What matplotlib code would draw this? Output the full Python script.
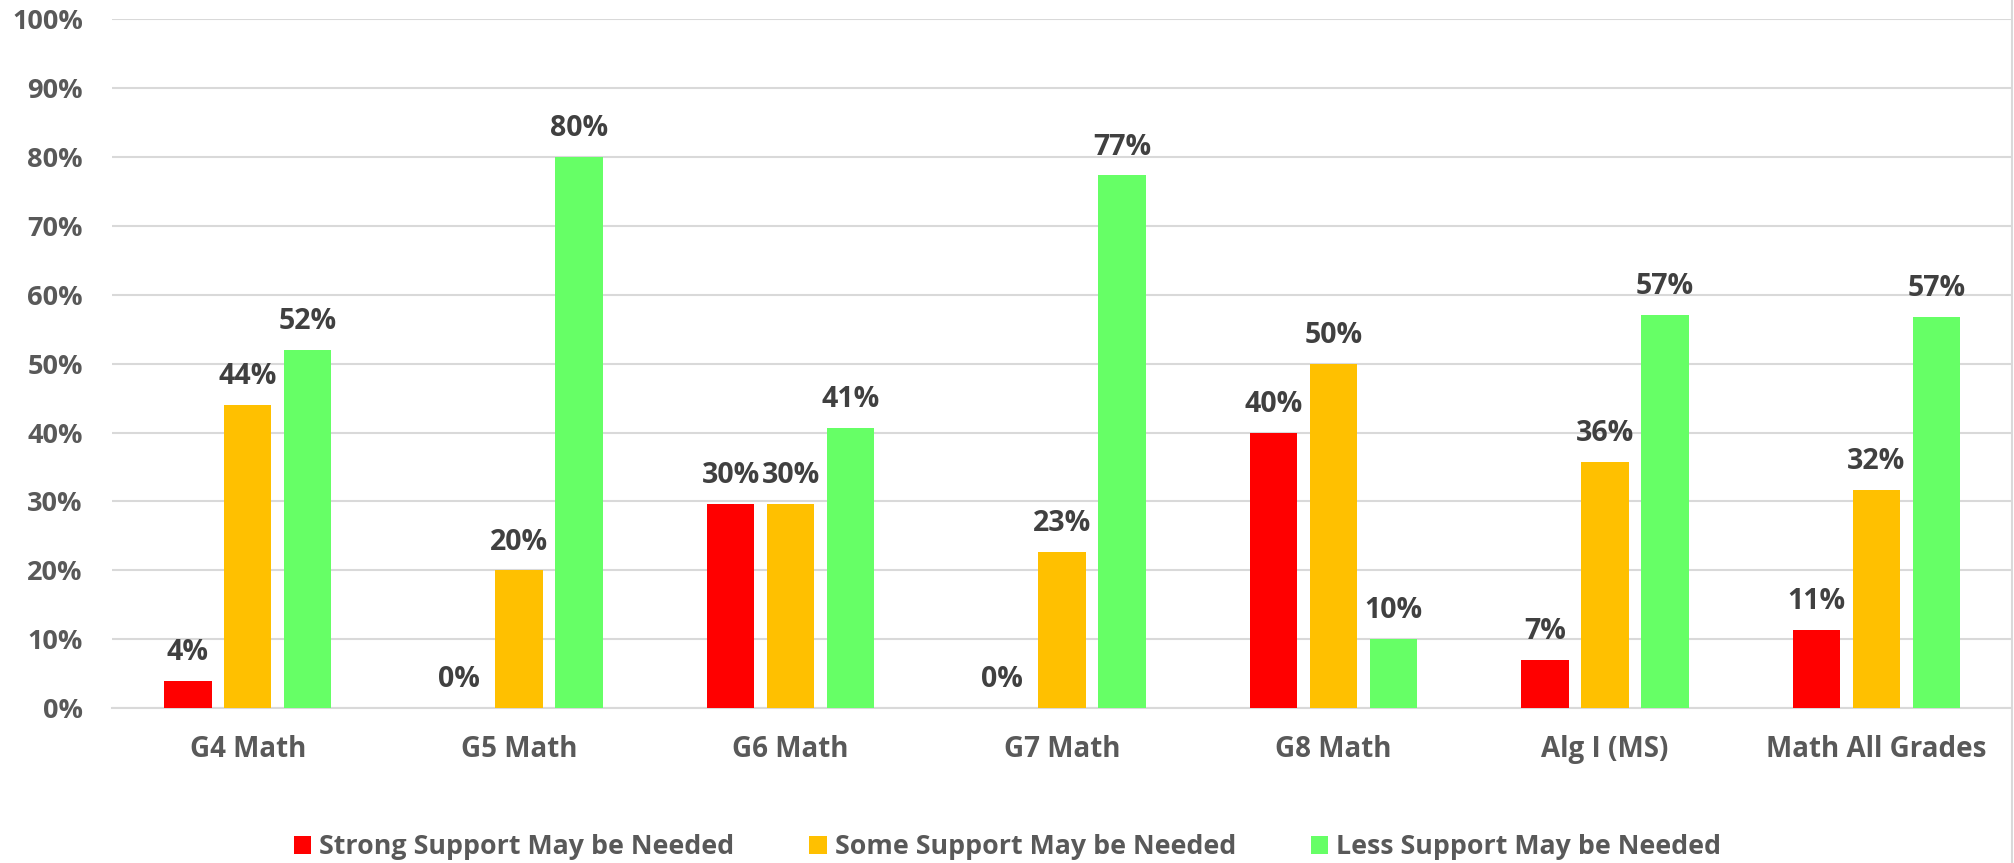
import numpy as np
import matplotlib
matplotlib.use('Agg')
import matplotlib.pyplot as plt
from matplotlib.lines import Line2D
from matplotlib.ticker import FuncFormatter

# Dados do gráfico
categorias = ['G4 Math', 'G5 Math', 'G6 Math', 'G7 Math', 'G8 Math', 'Alg I (MS)', 'Math All Grades']
strong = [4.0, 0.0, 29.6, 0.0, 40.0, 7.0, 11.4]
some = [44.0, 20.0, 29.6, 22.7, 50.0, 35.7, 31.7]
less = [52.0, 80.0, 40.7, 77.3, 10.0, 57.1, 56.8]
series_nomes = ['Strong Support May be Needed', 'Some Support May be Needed', 'Less Support May be Needed']
cores = ['#FF0000', '#FFC000', '#66FF66']

plt.rcParams['font.family'] = ['Open Sans', 'DejaVu Sans']
plt.rcParams['font.weight'] = 'bold'

fig = plt.figure(figsize=(20.15, 8.63), dpi=100)
ax = fig.add_axes([0.0556, 0.1793, 0.9429, 0.7987])

x = np.arange(len(categorias))
passo = 0.221
largura = 0.175
for i, (valores, nome, cor) in enumerate(zip([strong, some, less], series_nomes, cores)):
    barras = ax.bar(x + (i - 1) * passo, valores, largura, color=cor, label=nome, zorder=3)
    ax.bar_label(barras, labels=[f'{v:.0f}%' for v in valores], padding=10,
                 fontsize=20.5, fontweight='bold', color='#404040')

ax.set_xlim(-0.5, len(categorias) - 0.5)
ax.set_ylim(0, 100)
ax.set_yticks(np.arange(0, 101, 10))
ax.yaxis.set_major_formatter(FuncFormatter(lambda v, p: f'{v:.0f}%'))
ax.set_xticks(x)
ax.set_xticklabels(categorias)
ax.tick_params(axis='y', length=0, pad=21, labelsize=19.5, labelcolor='#595959')
ax.tick_params(axis='x', length=0, pad=19, labelsize=20, labelcolor='#595959')
for t in ax.get_xticklabels() + ax.get_yticklabels():
    t.set_fontweight('bold')
ax.grid(axis='y', color='#d9d9d9', linewidth=1.5, zorder=0)
for lado in ['top', 'left', 'right']:
    ax.spines[lado].set_visible(False)
ax.spines['bottom'].set_color('#d9d9d9')
ax.spines['bottom'].set_linewidth(1.5)

# borda direita do gráfico
fig.add_artist(Line2D([0.9985, 0.9985], [0, 1], color='#d9d9d9', linewidth=1.5))

leg = fig.legend(loc='center', bbox_to_anchor=(0.5, 0.0185), ncol=3, frameon=False,
                 prop={'size': 19.3, 'weight': 'bold'}, handlelength=0.65, handleheight=0.65,
                 handletextpad=0.3, columnspacing=2.8)
for t in leg.get_texts():
    t.set_color('#595959')

fig.savefig('out.png', dpi=100)
